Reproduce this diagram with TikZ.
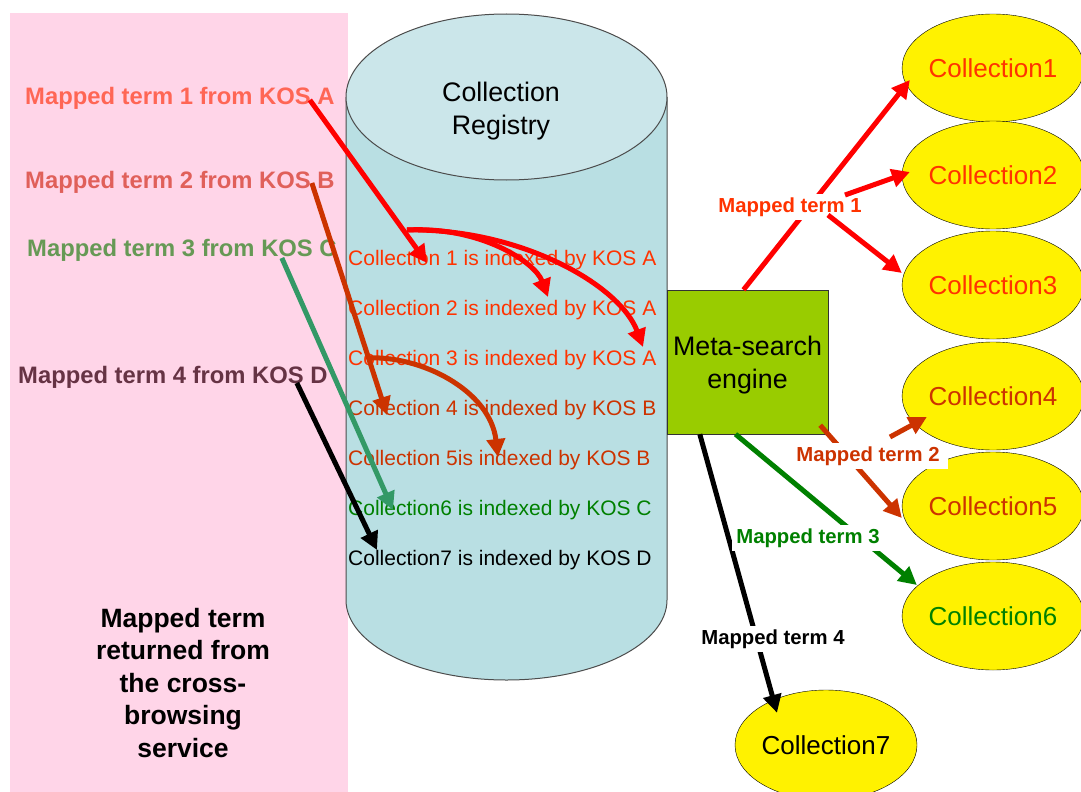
\documentclass[tikz,border=0pt]{standalone}
\usepackage{fontspec}
\setmainfont{Liberation Sans}
\usetikzlibrary{arrows.meta,shapes.geometric}

\definecolor{panelpink}{HTML}{FFD5E8}
\definecolor{cylside}{HTML}{B9DFE3}
\definecolor{cyltop}{HTML}{CBE6EA}
\definecolor{enginegreen}{HTML}{99CC00}
\definecolor{kosA}{HTML}{FF3300}
\definecolor{kosB}{HTML}{CC3300}
\definecolor{kosC}{HTML}{008000}
\definecolor{kosD}{HTML}{000000}
\definecolor{termA}{HTML}{FF6655}
\definecolor{termB}{HTML}{E0605A}
\definecolor{termC}{HTML}{669955}
\definecolor{termD}{HTML}{663344}
\definecolor{linkC}{HTML}{339966}

\tikzset{
	fatarrow/.style={line width=5pt,-{Triangle[length=18pt,width=18pt]}},
	collnode/.style={ellipse,draw,fill=yellow,minimum width=176pt,minimum height=108pt,inner sep=0pt,font=\fontsize{26}{31}\selectfont},
	rowtext/.style={anchor=west,inner sep=0pt,font=\fontsize{21}{25}\selectfont},
	termlabel/.style={anchor=west,inner sep=0pt,font=\bfseries\fontsize{23.8}{28}\selectfont},
	maplabel/.style={fill=white,inner sep=4pt,font=\bfseries\fontsize{20.3}{24}\selectfont},
}

\begin{document}
\begin{tikzpicture}[x=1pt,y=-1pt]
	\useasboundingbox (0,0) rectangle (1081,792);
	\fill[panelpink] (10,13) rectangle (348,792);
	\filldraw[fill=cylside,draw=black!70,line width=1pt] (346,97) -- (346,600) arc[start angle=180,end angle=360,x radius=160.5pt,y radius=80pt] -- (667,97);
	\filldraw[fill=cyltop,draw=black!70,line width=1pt] (506.5,97) ellipse[x radius=160.5pt,y radius=83pt];
	\node[align=center,font=\fontsize{26.8}{33}\selectfont] (registry) at (501,111) {Collection\\Registry};
	\node[draw=black!80,fill=enginegreen,minimum width=161pt,minimum height=144pt,inner sep=0pt,align=center,font=\fontsize{26.8}{33}\selectfont] (engine) at (747.5,362) {\\[-8pt]Meta-search\\engine};
	\foreach \i/\y/\c in {1/68/kosA,2/175/kosA,3/285/kosA,4/396/kosB,5/506/kosB,6/616/kosC}{
		\node[collnode,text=\c] (coll\i) at (993,\y) {Collection\i};
	}
	\node[collnode,text=black,minimum width=182pt,minimum height=110pt] (coll7) at (826,745) {Collection7};
	\foreach \i/\y/\c/\t in {1/260/kosA/Collection 1 is indexed by KOS A,2/310/kosA/Collection 2 is indexed by KOS A,3/360/kosA/Collection 3 is indexed by KOS A,4/410/kosB/Collection 4 is indexed by KOS B,5/460/kosB/Collection 5is indexed by KOS B,6/510/kosC/Collection6 is indexed by KOS C,7/560/kosD/Collection7 is indexed by KOS D}{
		\node[rowtext,text=\c] (row\i) at (348,\y) {\t};
	}
	\foreach \k/\x/\y/\n in {A/25/98/1,B/25/182/2,C/27/250/3,D/18/377/4}{
		\node[termlabel,text=term\k] (term\k) at (\x,\y) {Mapped term \n{} from KOS \k};
	}
	\node[align=center,font=\bfseries\fontsize{26.5}{32.5}\selectfont] (returned) at (183,683) {Mapped term\\returned from\\the cross-\\browsing\\service};
	\draw[fatarrow,red] ([shift={(-25,2)}]termA.east) -- ([shift={(79,3)}]row1.west);
	\draw[fatarrow,red] ([shift={(59,-30)}]row1.west) .. controls +(73,-4) and +(-13,-35) .. ([shift={(200,-13)}]row2.west);
	\draw[fatarrow,red] ([shift={(59,-30)}]row1.west) .. controls +(113,-2) and +(-23,-62) .. ([shift={(295,-13)}]row3.west);
	\draw[fatarrow,kosB] ([shift={(-23,1)}]termB.east) -- ([shift={(39,5)}]row4.west);
	\draw[fatarrow,kosB] ([shift={(19,-2)}]row3.west) .. controls +(53,-3) and +(-8,-67) .. ([shift={(150,-3)}]row5.west);
	\draw[fatarrow,linkC] ([shift={(-55,8)}]termC.east) -- ([shift={(45,0)}]row6.west);
	\draw[fatarrow,black] ([shift={(-31,6)}]termD.east) -- ([shift={(29,-10)}]row7.west);
	\draw[fatarrow,red] ([xshift=-4]engine.north) -- ([shift={(8,12)}]coll1.west);
	\node[maplabel,text=kosA] (map1) at (790,207) {Mapped term 1};
	\draw[fatarrow,red] ([shift={(55,-12)}]map1.center) -- ([shift={(8,-3)}]coll2.west);
	\draw[fatarrow,red] ([shift={(38,8)}]map1.center) -- ([shift={(0,-12)}]coll3.west);
	\draw[fatarrow,kosB] ([shift={(-8,-9)}]engine.south east) -- ([shift={(0,12)}]coll5.west);
	\node[maplabel,text=kosB,inner xsep=8pt] (map2) at (868,456) {Mapped term 2};
	\draw[fatarrow,kosB] ([shift={(22,-19)}]map2.center) -- ([shift={(25,21)}]coll4.west);
	\draw[fatarrow,black] ([xshift=33]engine.south west) -- ([shift={(-49,23)}]coll7.north);
	\draw[fatarrow,kosC] ([xshift=-12]engine.south) -- ([shift={(15,-31)}]coll6.west);
	\node[maplabel,text=kosC] (map3) at (808,538) {Mapped term 3};
	\node[maplabel,text=black] (map4) at (773,639) {Mapped term 4};
\end{tikzpicture}
\end{document}
